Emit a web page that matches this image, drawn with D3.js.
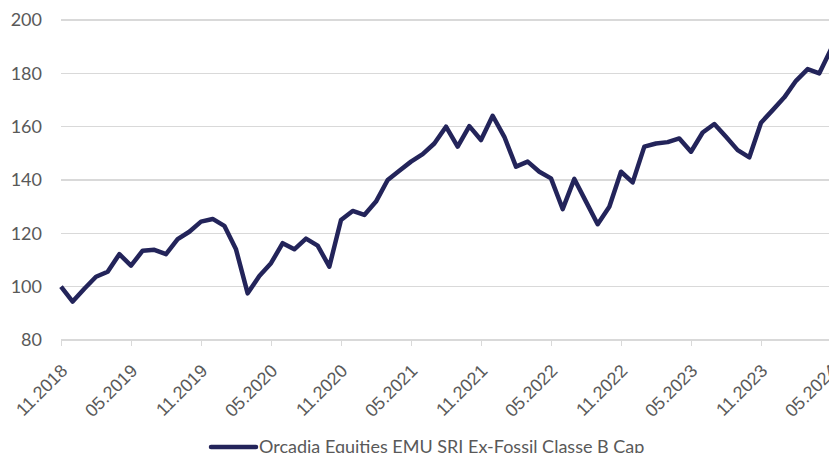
<!DOCTYPE html>
<meta charset="utf-8">
<style>
body { margin: 0; background: #fff; }
svg { display: block; font-family: Lato, sans-serif; }
.grid line { stroke: #d9d9d9; stroke-width: 1.3px; shape-rendering: crispEdges; }
.axis text { fill: #595959; font-size: 18px; }
.axis line, .axis path { stroke: #d9d9d9; stroke-width: 1.3px; shape-rendering: crispEdges; }
.series { fill: none; stroke: #23245a; stroke-width: 4.5px; stroke-linejoin: round; }
.legend text { fill: #595959; font-size: 18px; }
</style>
<body>
<div id="chart"></div>
<script src="https://cdn.jsdelivr.net/npm/d3@7"></script>
<script>
// months 11.2018 .. 05.2024
var months = d3.utcMonth.range(new Date(Date.UTC(2018, 10, 1)), new Date(Date.UTC(2024, 5, 1)))
  .map(d3.utcFormat("%m.%Y"));

var seriesName = "Orcadia Equities EMU SRI Ex-Fossil Classe B Cap";
var values = [
  100, 94.4, 99.2, 103.7, 105.6, 112.2, 107.9, 113.5, 113.8, 112.2,
  117.8, 120.6, 124.4, 125.4, 122.8, 114.0, 97.5, 104, 108.8, 116.3,
  114, 118, 115.4, 107.5, 125, 128.4, 126.9, 131.9, 140, 143.5,
  146.9, 149.7, 153.7, 160, 152.5, 160.2, 155, 164.1, 156.2, 145,
  146.9, 143.1, 140.6, 129.1, 140.4, 131.9, 123.4, 130, 143.1, 139.1,
  152.5, 153.7, 154.2, 155.6, 150.6, 157.8, 161, 156.2, 151.2, 148.5,
  161.5, 166.2, 171, 177.2, 181.6, 180, 189
];
var yTicks = [80, 100, 120, 140, 160, 180, 200];
var xTickLabels = ["11.2018", "05.2019", "11.2019", "05.2020", "11.2020", "05.2021",
  "11.2021", "05.2022", "11.2022", "05.2023", "11.2023", "05.2024"];

var W = 829, H = 453;
var svg = d3.select("#chart").append("svg").attr("width", W).attr("height", H);

var x = d3.scalePoint().domain(months).range([61, 831]);
var y = d3.scaleLinear().domain([80, 200]).range([340, 20]);

// gridlines
svg.append("g").attr("class", "grid")
  .selectAll("line").data(yTicks.slice(1)).enter().append("line")
  .attr("x1", 61).attr("x2", W)
  .attr("y1", function(d) { return y(d); }).attr("y2", function(d) { return y(d); });

// y labels
var yAxis = svg.append("g").attr("class", "axis");
yAxis.selectAll("text").data(yTicks).enter().append("text")
  .attr("x", 42).attr("y", function(d) { return y(d); })
  .attr("dy", "0.36em").attr("text-anchor", "end")
  .text(function(d) { return d; });

// x axis
var xAxis = svg.append("g").attr("class", "axis")
  .attr("transform", "translate(0," + y(80) + ")")
  .call(d3.axisBottom(x).tickValues(xTickLabels).tickSize(6).tickSizeOuter(0).tickPadding(0));
xAxis.select(".domain").attr("d", "M61,0H" + W);
xAxis.selectAll(".tick text")
  .attr("text-anchor", "end")
  .attr("x", 0).attr("y", 0).attr("dy", 0)
  .attr("transform", "translate(7,32) rotate(-45)");

// line
var line = d3.line()
  .x(function(d, i) { return x(months[i]); })
  .y(function(d) { return y(d); });
svg.append("path").datum(values).attr("class", "series").attr("d", line);

// legend
var lg = svg.append("g").attr("class", "legend");
lg.append("line").attr("x1", 211).attr("x2", 256).attr("y1", 447).attr("y2", 447)
  .attr("stroke", "#23245a").attr("stroke-width", 4.5).attr("stroke-linecap", "round");
lg.append("text").attr("x", 259).attr("y", 453).text(seriesName);
</script>
